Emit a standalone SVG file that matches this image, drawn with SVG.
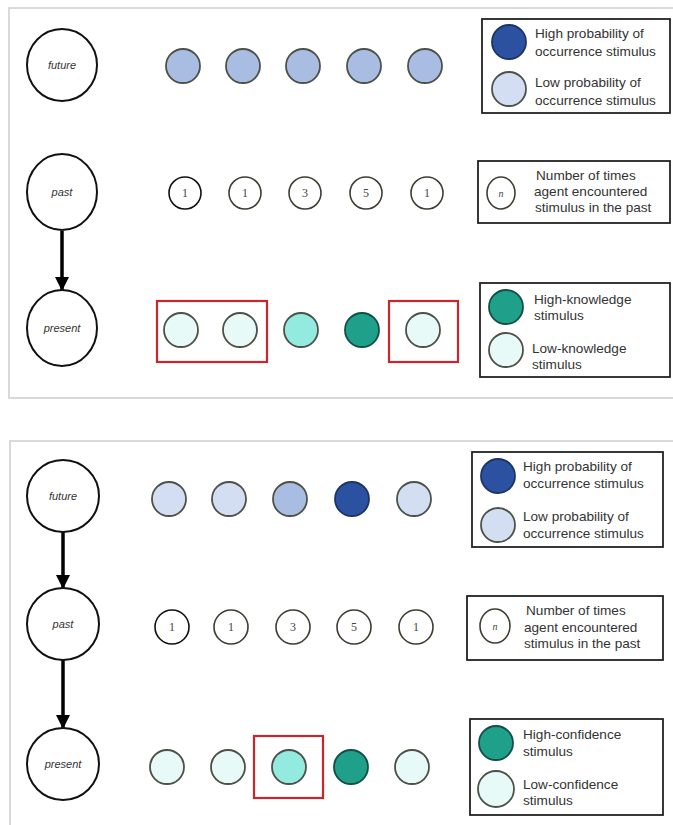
<svg xmlns="http://www.w3.org/2000/svg" width="673" height="825" viewBox="0 0 673 825">
<defs>
<style>
.panel{fill:#fff;stroke:#d9d9d9;stroke-width:2}
.node{fill:#fff;stroke:#111;stroke-width:2}
.nlab{font-family:"Liberation Sans",Arial,sans-serif;font-style:italic;font-size:11px;fill:#333;text-anchor:middle}
.st{stroke:#4d5248;stroke-width:1.8}
.blue1{fill:#a9bde3}
.blue0{fill:#d3def3}
.blue2{fill:#2b51a0;stroke:#1d3566}
.mint0{fill:#e8faf7}
.mint1{fill:#93ebe0}
.mint2{fill:#1ea08b;stroke:#124f45}
.cnt{fill:#fff;stroke:#3d3d33;stroke-width:1.6}
.num{font-family:"Liberation Serif","DejaVu Serif",serif;font-size:12px;fill:#444;text-anchor:middle}
.leg{fill:#fff;stroke:#222;stroke-width:1.8}
.lt{font-family:"Liberation Sans",Arial,sans-serif;font-size:13.6px;fill:#333}
.red{fill:none;stroke:#c8262c;stroke-width:2.2}
.conn{stroke:#000;stroke-width:3.5;fill:none}
</style>
<marker id="ah" viewBox="0 0 10 10" refX="10" refY="5" markerWidth="4" markerHeight="4" markerUnits="strokeWidth" orient="auto">
<path d="M0,0 L10,5 L0,10 z" fill="#000"/>
</marker>
</defs>
<rect width="673" height="825" fill="#fff"/>

<!-- TOP PANEL -->
<rect class="panel" x="9" y="8" width="680" height="390"/>

<g id="connectors-top">
<line class="conn" x1="62" y1="231" x2="62" y2="291" marker-end="url(#ah)"/>
</g>

<g id="t-future"><ellipse class="node" cx="62" cy="65" rx="35" ry="36"/><text class="nlab" x="62" y="69">future</text></g>
<g id="t-past"><ellipse class="node" cx="62" cy="192" rx="35" ry="38"/><text class="nlab" x="62" y="196">past</text></g>
<g id="t-present"><ellipse class="node" cx="62" cy="328" rx="35" ry="38"/><text class="nlab" x="62" y="332">present</text></g>

<g id="t-future-row">
<circle class="st blue1" cx="183" cy="66" r="17"/>
<circle class="st blue1" cx="243" cy="66" r="17"/>
<circle class="st blue1" cx="303" cy="66" r="17"/>
<circle class="st blue1" cx="364" cy="66" r="17"/>
<circle class="st blue1" cx="425" cy="66" r="17"/>
</g>

<g id="t-past-row">
<circle class="cnt" cx="185" cy="193" r="16" style="stroke:#111"/><text class="num" x="185" y="197">1</text>
<circle class="cnt" cx="245" cy="193" r="16"/><text class="num" x="245" y="197">1</text>
<circle class="cnt" cx="305" cy="193" r="16"/><text class="num" x="305" y="197">3</text>
<circle class="cnt" cx="366" cy="193" r="16"/><text class="num" x="366" y="197">5</text>
<circle class="cnt" cx="427" cy="193" r="16"/><text class="num" x="427" y="197">1</text>
</g>

<g id="t-present-row">
<circle class="st mint0" cx="181" cy="330" r="17"/>
<circle class="st mint0" cx="240" cy="330" r="17"/>
<circle class="st mint1" cx="301" cy="330" r="17"/>
<circle class="st mint2" cx="362" cy="330" r="17"/>
<circle class="st mint0" cx="423" cy="330" r="17"/>
<rect class="red" x="157" y="301" width="110" height="61"/>
<rect class="red" x="389" y="301" width="69" height="61"/>
</g>

<g id="t-legend-prob">
<rect class="leg" x="482" y="19" width="188" height="94"/>
<circle class="st blue2" cx="509" cy="42" r="17"/>
<circle class="st blue0" cx="509" cy="89" r="17"/>
<text class="lt" x="535" y="38">High probability of</text>
<text class="lt" x="535" y="56">occurrence stimulus</text>
<text class="lt" x="535" y="87">Low probability of</text>
<text class="lt" x="535" y="105">occurrence stimulus</text>
</g>

<g id="t-legend-count">
<rect class="leg" x="478" y="161" width="192" height="62"/>
<ellipse class="cnt" cx="501" cy="193" rx="14" ry="16"/>
<text class="num" x="501" y="197" style="font-style:italic;font-size:10px">n</text>
<text class="lt" x="536" y="180">Number of times</text>
<text class="lt" x="534" y="196">agent encountered</text>
<text class="lt" x="535" y="212">stimulus in the past</text>
</g>

<g id="t-legend-know">
<rect class="leg" x="480" y="283" width="190" height="94"/>
<circle class="st mint2" cx="506" cy="307" r="17"/>
<circle class="st mint0" cx="506" cy="350" r="17"/>
<text class="lt" x="534" y="304">High-knowledge</text>
<text class="lt" x="534" y="320">stimulus</text>
<text class="lt" x="532" y="353">Low-knowledge</text>
<text class="lt" x="532" y="369">stimulus</text>
</g>

<!-- BOTTOM PANEL -->
<rect class="panel" x="10" y="441" width="680" height="400"/>

<g id="connectors-bottom">
<line class="conn" x1="63" y1="532" x2="63" y2="589" marker-end="url(#ah)"/>
<line class="conn" x1="63" y1="660" x2="63" y2="729" marker-end="url(#ah)"/>
</g>

<g id="b-future"><ellipse class="node" cx="63" cy="496" rx="36" ry="36"/><text class="nlab" x="63" y="500">future</text></g>
<g id="b-past"><ellipse class="node" cx="63" cy="624" rx="36" ry="36"/><text class="nlab" x="63" y="628">past</text></g>
<g id="b-present"><ellipse class="node" cx="63" cy="764" rx="36" ry="36"/><text class="nlab" x="63" y="768">present</text></g>

<g id="b-future-row">
<circle class="st blue0" cx="169" cy="499" r="17"/>
<circle class="st blue0" cx="229" cy="499" r="17"/>
<circle class="st blue1" cx="290" cy="499" r="17"/>
<circle class="st blue2" cx="352" cy="499" r="17"/>
<circle class="st blue0" cx="414" cy="499" r="17"/>
</g>

<g id="b-past-row">
<circle class="cnt" cx="172" cy="627" r="17" style="stroke:#111"/><text class="num" x="172" y="631">1</text>
<circle class="cnt" cx="231" cy="627" r="17"/><text class="num" x="231" y="631">1</text>
<circle class="cnt" cx="293" cy="627" r="17"/><text class="num" x="293" y="631">3</text>
<circle class="cnt" cx="354" cy="627" r="17"/><text class="num" x="354" y="631">5</text>
<circle class="cnt" cx="416" cy="627" r="17"/><text class="num" x="416" y="631">1</text>
</g>

<g id="b-present-row">
<circle class="st mint0" cx="167" cy="767" r="17"/>
<circle class="st mint0" cx="228" cy="767" r="17"/>
<circle class="st mint1" cx="289" cy="767" r="17"/>
<circle class="st mint2" cx="351" cy="767" r="17"/>
<circle class="st mint0" cx="412" cy="767" r="17"/>
<rect class="red" x="254" y="736" width="69" height="62"/>
</g>

<g id="b-legend-prob">
<rect class="leg" x="472" y="452" width="191" height="95"/>
<circle class="st blue2" cx="498" cy="476" r="17"/>
<circle class="st blue0" cx="498" cy="525" r="17"/>
<text class="lt" x="523" y="471">High probability of</text>
<text class="lt" x="523" y="488">occurrence stimulus</text>
<text class="lt" x="523" y="521">Low probability of</text>
<text class="lt" x="523" y="538">occurrence stimulus</text>
</g>

<g id="b-legend-count">
<rect class="leg" x="467" y="596" width="196" height="64"/>
<ellipse class="cnt" cx="495" cy="626" rx="15" ry="17"/>
<text class="num" x="495" y="630" style="font-style:italic;font-size:10px">n</text>
<text class="lt" x="526" y="615">Number of times</text>
<text class="lt" x="524" y="632">agent encountered</text>
<text class="lt" x="524" y="648">stimulus in the past</text>
</g>

<g id="b-legend-conf">
<rect class="leg" x="470" y="719" width="193" height="96"/>
<circle class="st mint2" cx="496" cy="743" r="17"/>
<circle class="st mint0" cx="496" cy="789" r="18"/>
<text class="lt" x="523" y="739">High-confidence</text>
<text class="lt" x="523" y="756">stimulus</text>
<text class="lt" x="523" y="789">Low-confidence</text>
<text class="lt" x="523" y="805">stimulus</text>
</g>
</svg>
